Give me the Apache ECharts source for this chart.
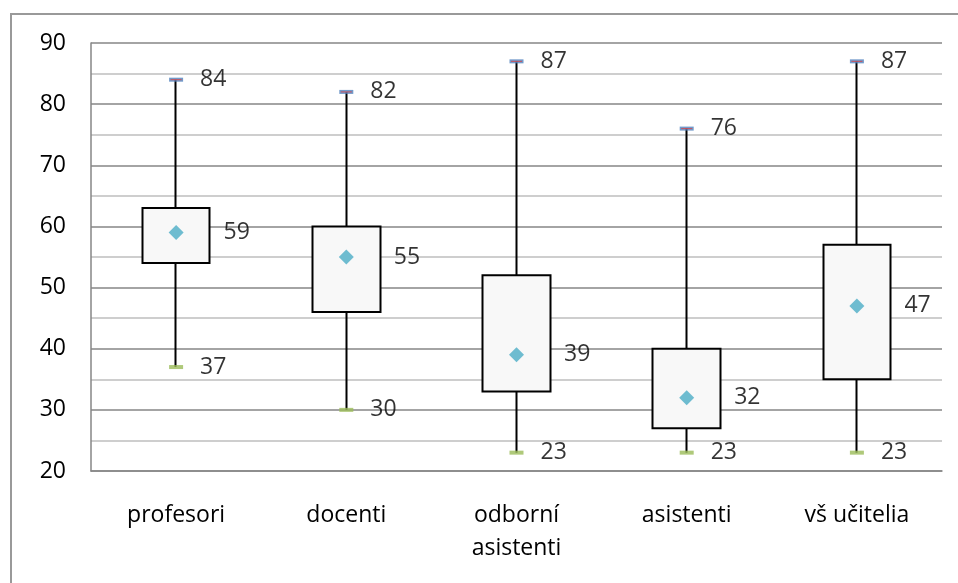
<!DOCTYPE html>
<html>
<head>
<meta charset="utf-8">
<script src="https://cdn.jsdelivr.net/npm/echarts@6/dist/echarts.min.js"></script>
<style>
html,body{margin:0;padding:0;background:#fff;}
#chart{width:958px;height:583px;}
</style>
</head>
<body>
<div id="chart"></div>
<script>
const categories = ['profesori', 'docenti', 'odborní\nasistenti', 'asistenti', 'vš učitelia'];
const minValues = [37, 30, 23, 23, 23];
const q1Values = [54, 46, 33, 27, 35];
const q3Values = [63, 60, 52, 40, 57];
const maxValues = [84, 82, 87, 76, 87];
const meanValues = [59, 55, 39, 32, 47];
const yMin = 20, yMax = 90, yStep = 10;

const boxData = categories.map((c, i) => [q1Values[i], q3Values[i], minValues[i], maxValues[i]]);
const FONT = 'Open Sans';
const labelStyle = { fontFamily: FONT, fontSize: 23, color: '#000' };

const chart = echarts.init(document.getElementById('chart'), null, { renderer: 'canvas' });
chart.setOption({
  animation: false,
  backgroundColor: '#fff',
  graphic: [{
    type: 'rect', silent: true, z: -10,
    shape: { x: 11, y: 14, width: 1000, height: 700 },
    style: { fill: 'none', stroke: '#999', lineWidth: 2 }
  }],
  grid: { left: 91, right: 16, top: 43, bottom: 112, containLabel: false },
  xAxis: {
    type: 'category',
    data: categories,
    boundaryGap: true,
    axisLine: { show: true, lineStyle: { color: '#868686', width: 1.5 } },
    axisTick: { show: false },
    axisLabel: { ...labelStyle, margin: 28, lineHeight: 33, interval: 0 },
    splitLine: { show: false }
  },
  yAxis: {
    type: 'value',
    min: yMin, max: yMax, interval: yStep,
    axisLine: { show: true, lineStyle: { color: '#868686', width: 1.5 } },
    axisTick: { show: false },
    axisLabel: { ...labelStyle, margin: 25 },
    splitLine: { show: true, lineStyle: { color: '#868686', width: 1.5 } },
    minorTick: { show: false, splitNumber: 2 },
    minorSplitLine: { show: true, lineStyle: { color: '#bfbfbf', width: 1.5 } }
  },
  series: [
    {
      type: 'candlestick',
      data: boxData,
      barWidth: 68,
      itemStyle: {
        color: '#f8f8f8', color0: '#f8f8f8',
        borderColor: '#000', borderColor0: '#000',
        borderWidth: 2
      },
      z: 2
    },
    {
      type: 'scatter',
      data: maxValues,
      symbol: 'rect',
      symbolSize: [14, 4],
      itemStyle: { color: '#4f81bd' },
      label: { show: true, position: 'right', distance: 17, ...labelStyle, formatter: p => p.value },
      z: 3
    },
    {
      type: 'scatter',
      data: maxValues,
      symbol: 'rect',
      symbolSize: [11, 1],
      itemStyle: { color: '#e04040' },
      z: 4
    },
    {
      type: 'scatter',
      data: minValues,
      symbol: 'rect',
      symbolSize: [14, 4],
      itemStyle: { color: '#9bbb59' },
      label: { show: true, position: 'right', distance: 17, ...labelStyle, formatter: p => p.value },
      z: 3
    },
    {
      type: 'scatter',
      data: meanValues,
      symbol: 'diamond',
      symbolSize: [15, 15],
      itemStyle: { color: '#4bacc6' },
      label: { show: true, position: 'right', distance: 40, ...labelStyle, formatter: p => p.value },
      z: 3
    }
  ]
});
</script>
</body>
</html>
